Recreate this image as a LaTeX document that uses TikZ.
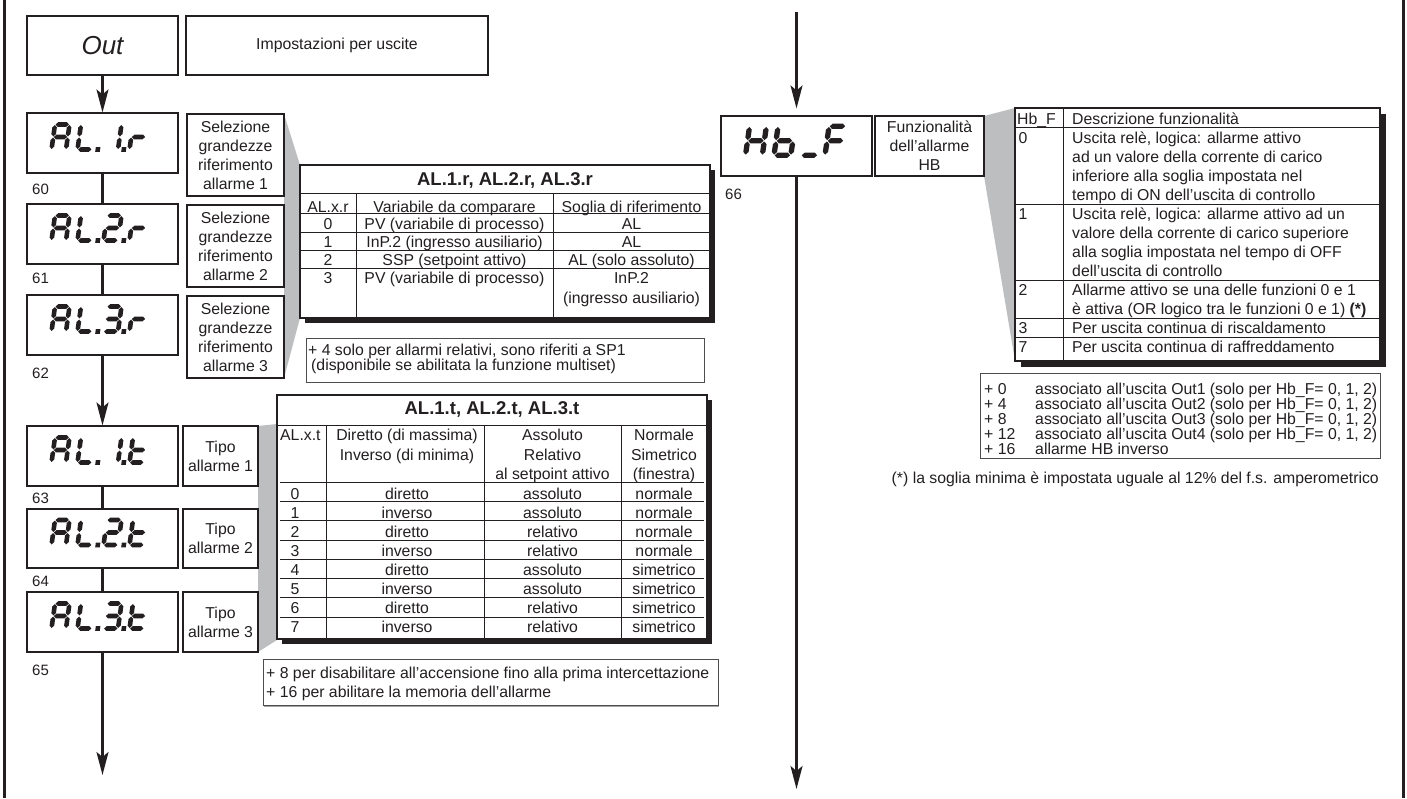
\documentclass[tikz,border=0pt]{standalone}
\usepackage{fontspec}
\setmainfont{Liberation Sans}
\usetikzlibrary{arrows.meta}
\definecolor{ink}{HTML}{231F20}
\definecolor{wedge}{HTML}{BCBEC0}
% seven segment pieces (origin = bottom-left stroke centre, y grows downwards)
\newcommand{\hsg}[3]{\fill[ink] (#1+0.6,#3) -- (#1+2.9,#3-2.3) -- (#2-2.9,#3-2.3) -- (#2-0.6,#3) -- (#2-2.9,#3+2.3) -- (#1+2.9,#3+2.3) -- cycle;}
\newcommand{\vsg}[3]{\fill[ink] (#1,#2+0.6) -- (#1+2.3,#2+2.9) -- (#1+2.3,#3-2.9) -- (#1,#3-0.6) -- (#1-2.3,#3-2.9) -- (#1-2.3,#2+2.9) -- cycle;}
\newcommand{\sgSa}{\hsg{0}{14.5}{-25}}
\newcommand{\sgSb}{\vsg{14.5}{-25}{-12.5}}
\newcommand{\sgSc}{\vsg{14.5}{-12.5}{0}}
\newcommand{\sgSd}{\hsg{0}{14.5}{0}}
\newcommand{\sgSe}{\vsg{0}{-12.5}{0}}
\newcommand{\sgSf}{\vsg{0}{-25}{-12.5}}
\newcommand{\sgSg}{\hsg{0}{14.5}{-12.5}}
\newcommand{\sgSp}{\fill[ink] (18,-2.3) rectangle (22.6,2.3);}
\newcommand{\sgCA}{\sgSa\sgSb\sgSc\sgSe\sgSf\sgSg}
\newcommand{\sgCL}{\sgSd\sgSe\sgSf\sgSp}
\newcommand{\sgCone}{\sgSb\sgSc\sgSp}
\newcommand{\sgCtwo}{\sgSa\sgSb\sgSg\sgSe\sgSd\sgSp}
\newcommand{\sgCthree}{\sgSa\sgSb\sgSg\sgSc\sgSd\sgSp}
\newcommand{\sgCr}{\sgSe\sgSg}
\newcommand{\sgCt}{\sgSd\sgSe\sgSf\sgSg}
\newcommand{\sgCH}{\sgSb\sgSc\sgSe\sgSf\sgSg}
\newcommand{\sgCb}{\sgSc\sgSd\sgSe\sgSf\sgSg}
\newcommand{\sgCu}{\sgSd}
\newcommand{\sgCF}{\sgSa\sgSe\sgSf\sgSg}
\newcommand{\sevenseg}[4]{\begin{scope}[shift={(#1,#2)},scale=#3,xslant=0.14]#4\end{scope}}
\begin{document}
\begin{tikzpicture}[x=1pt,y=-1pt,
  box/.style={draw=ink, line width=1.1pt, fill=white, inner sep=0pt, text=ink},
  disp/.style={box, minimum width=151pt, minimum height=60pt},
  lbl/.style={box, align=center, font=\fontsize{15.8}{19}\selectfont},
  txt/.style={font=\fontsize{15.8}{19}\selectfont, inner sep=0pt, anchor=base, text=ink},
  txtw/.style={txt, anchor=base west},
  hd/.style={font=\fontsize{18.5}{22}\selectfont\bfseries, inner sep=0pt, anchor=base, text=ink},
  num/.style={font=\fontsize{15}{18}\selectfont, inner sep=0pt, anchor=base west, text=ink},
  frame/.style={draw=ink, line width=1.2pt, fill=white},
  rule/.style={draw=ink, line width=0.8pt},
  note/.style={draw=ink!80, line width=0.9pt, fill=white},
  conn/.style={draw=ink, line width=2.2pt},
  arr/.style={-{Stealth[length=23pt,width=12pt,inset=5pt]}}
]
\useasboundingbox (0,0) rectangle (1407,798);
% page side rules
\draw[ink, line width=3pt] (4,0) -- (4,798);
\draw[ink, line width=3pt] (1403,0) -- (1403,798);
% gray projections
\fill[wedge] (284,114) -- (300,165) -- (300,318) -- (284,378) -- cycle;
\fill[wedge] (258,426) -- (277,424) -- (277,640) -- (258,652) -- cycle;
\fill[wedge] (984,116) -- (1015,108) -- (1015,361) -- (984,176) -- cycle;
% header boxes
\node[box, minimum width=151pt, minimum height=59pt, font=\fontsize{26}{30}\selectfont\itshape] (out) at (102.5,45.5) {Out};
\node[box, minimum width=302pt, minimum height=59pt, font=\fontsize{15.8}{19}\selectfont] (imp) at (337,45.5) {Impostazioni per uscite};
% display boxes
\node[disp] (al1r) at (102.5,143) {};
\node[disp] (al2r) at (102.5,234) {};
\node[disp] (al3r) at (102.5,325) {};
\node[disp] (al1t) at (102.5,456) {};
\node[disp, minimum height=59pt] (al2t) at (102.5,538.5) {};
\node[disp] (al3t) at (102.5,622) {};
\node[disp] (hbf) at (796.5,146) {};
% seven segment texts
\foreach \cy/\third/\last in {149.5/\sgCone/\sgCr, 240.5/\sgCtwo/\sgCr, 331.5/\sgCthree/\sgCr, 462.5/\sgCone/\sgCt, 545/\sgCtwo/\sgCt, 628.5/\sgCthree/\sgCt} {
  \sevenseg{51.5}{\cy}{1}{\sgCA}
  \sevenseg{77.5}{\cy}{1}{\sgCL}
  \sevenseg{103.5}{\cy}{1}{\third}
  \sevenseg{129.5}{\cy}{1}{\last}
}
\sevenseg{745.5}{155.3}{1.16}{\sgCH}
\sevenseg{774}{155.3}{1.16}{\sgCb}
\sevenseg{801}{155.3}{1.16}{\sgCu}
\sevenseg{825}{155.3}{1.16}{\sgCF}
% description boxes
\node[lbl, minimum width=97pt, minimum height=82pt] (sel1) at (235.5,155) {Selezione\\grandezze\\riferimento\\allarme 1};
\node[lbl, minimum width=97pt, minimum height=82pt] (sel2) at (235.5,246) {Selezione\\grandezze\\riferimento\\allarme 2};
\node[lbl, minimum width=97pt, minimum height=82pt] (sel3) at (235.5,337) {Selezione\\grandezze\\riferimento\\allarme 3};
\node[lbl, minimum width=75pt, minimum height=60pt] (tipo1) at (220.5,456) {Tipo\\allarme 1};
\node[lbl, minimum width=75pt, minimum height=59pt] (tipo2) at (220.5,538.5) {Tipo\\allarme 2};
\node[lbl, minimum width=75pt, minimum height=60pt] (tipo3) at (220.5,622) {Tipo\\allarme 3};
\node[lbl, minimum width=109pt, minimum height=60pt] (fun) at (929.5,146) {Funzionalità\\dell'allarme\\HB};
% step numbers
\node[num] (n60) at (32,194) {60};
\node[num] (n61) at (32,283) {61};
\node[num] (n62) at (32,378) {62};
\node[num] (n63) at (32,503) {63};
\node[num] (n64) at (32,586) {64};
\node[num] (n65) at (32,675) {65};
\node[num] (n66) at (725,199) {66};
% connectors
\draw[conn, arr] (out) -- (al1r);
\draw[conn] (al1r) -- (al2r);
\draw[conn] (al2r) -- (al3r);
\draw[conn, arr] (al3r) -- (al1t);
\draw[conn] (al1t) -- (al2t);
\draw[conn] (al2t) -- (al3t);
\coordinate (endL) at (102.5,775);
\draw[conn, arr] (al3t) -- (endL);
\coordinate (startR) at (796.5,12);
\draw[conn, arr, shorten >=7pt] (startR) -- (hbf);
\coordinate (endR) at (796.5,789);
\draw[conn, arr] (hbf) -- (endR);
% ---------- table 1 ----------
\fill[ink] (305,170) rectangle (715,323);
\draw[frame] (300,165) rectangle (710,318);
\draw[rule] (300,193) -- (710,193);
\foreach \yy in {213,232,250,268} {\draw[rule] (300,\yy) -- (710,\yy);}
\draw[rule] (356,193) -- (356,318);
\draw[rule] (553,193) -- (553,318);
\node[hd] (t1title) at (505,185.5) {AL.1.r, AL.2.r, AL.3.r};
\node[txt] (t1ha) at (328,212.5) {AL.x.r};
\node[txt] (t1hb) at (454.5,212.5) {Variabile da comparare};
\node[txt] (t1hc) at (631.5,212.5) {Soglia di riferimento};
\foreach \n/\v/\s [count=\i from 0] in {0/PV (variabile di processo)/AL, 1/InP.2 (ingresso ausiliario)/AL, 2/SSP (setpoint attivo)/AL (solo assoluto), 3/PV (variabile di processo)/InP.2} {
  \node[txt] (t1n\i) at (328,229+\i*18) {\n};
  \node[txt] (t1v\i) at (454.5,229+\i*18) {\v};
  \node[txt] (t1s\i) at (631.5,229+\i*18) {\s};
}
\node[txt] (t1s3b) at (631.5,303) {(ingresso ausiliario)};
% note 1
\draw[note] (306,338) rectangle (704,382);
\node[txtw] (nt1a) at (308,355) {+ 4 solo per allarmi relativi, sono riferiti a SP1};
\node[txtw] (nt1b) at (308,370.5) {\hspace{3pt}(disponibile se abilitata la funzione multiset)};
% ---------- table 2 ----------
\fill[ink] (282,400) rectangle (712,644);
\draw[frame] (277,395) rectangle (707,639);
\draw[rule] (277,425) -- (707,425);
\foreach \xx in {326,484,621} {\draw[rule] (\xx,425) -- (\xx,639);}
\foreach \i in {0,...,7} {\draw[rule] (280,482+\i*19.3) -- (704,482+\i*19.3);}
\node[hd] (t2title) at (492,414.5) {AL.1.t, AL.2.t, AL.3.t};
\node[txtw] (t2ha) at (280,440) {AL.x.t};
\node[txt] (t2hb1) at (407,440) {Diretto (di massima)};
\node[txt] (t2hb2) at (407,460) {Inverso (di minima)};
\node[txt] (t2hc1) at (552.5,440) {Assoluto};
\node[txt] (t2hc2) at (552.5,460) {Relativo};
\node[txt] (t2hc3) at (552.5,479) {al setpoint attivo};
\node[txt] (t2hd1) at (664,440) {Normale};
\node[txt] (t2hd2) at (664,460) {Simetrico};
\node[txt] (t2hd3) at (664,479) {(finestra)};
\foreach \a/\b/\c [count=\i from 0] in {diretto/assoluto/normale, inverso/assoluto/normale, diretto/relativo/normale, inverso/relativo/normale, diretto/assoluto/simetrico, inverso/assoluto/simetrico, diretto/relativo/simetrico, inverso/relativo/simetrico} {
  \node[txt] (t2n\i) at (295,499+\i*19.14) {\i};
  \node[txt] (t2a\i) at (407,499+\i*19.14) {\a};
  \node[txt] (t2b\i) at (552.5,499+\i*19.14) {\b};
  \node[txt] (t2c\i) at (664,499+\i*19.14) {\c};
}
% note 2
\draw[ink!40, line width=1pt] (264,706.5) -- (719,706.5);
\draw[note] (263,659) rectangle (718,705);
\node[txtw] (nt2a) at (266,678) {+ 8 per disabilitare all'accensione fino alla prima intercettazione};
\node[txtw] (nt2b) at (266,697) {+ 16 per abilitare la memoria dell'allarme};
% ---------- table Hb_F ----------
\fill[ink] (1021,114) rectangle (1386,367);
\draw[frame] (1015,108) rectangle (1380,361);
\foreach \yy in {127.5,204,280,318.5,337.5} {\draw[rule] (1015,\yy) -- (1380,\yy);}
\draw[rule] (1063,108) -- (1063,361);
\node[txtw] (t3ha) at (1017,124) {Hb\_F};
\node[txtw] (t3hb) at (1072,124) {Descrizione funzionalità};
\foreach \k/\n in {1/0,5/1,9/2,11/3,12/7} {\node[txt] (t3n\n) at (1023,124+\k*19.08) {\n};}
\foreach \t [count=\k] in {Uscita relè{,} logica: allarme attivo, ad un valore della corrente di carico, inferiore alla soglia impostata nel, tempo di ON dell'uscita di controllo, Uscita relè{,} logica: allarme attivo ad un, valore della corrente di carico superiore, alla soglia impostata nel tempo di OFF, dell'uscita di controllo, Allarme attivo se una delle funzioni 0 e 1, è attiva (OR logico tra le funzioni 0 e 1) \textbf{(*)}, Per uscita continua di riscaldamento, Per uscita continua di raffreddamento} {
  \node[txtw] (t3t\k) at (1072,124+\k*19.08) {\t};
}
% list box
\draw[note] (980,373) rectangle (1380,458);
\foreach \p/\t [count=\k from 0] in {0/associato all’uscita Out1 (solo per Hb\_F= 0{,} 1{,} 2), 4/associato all’uscita Out2 (solo per Hb\_F= 0{,} 1{,} 2), 8/associato all’uscita Out3 (solo per Hb\_F= 0{,} 1{,} 2), 12/associato all’uscita Out4 (solo per Hb\_F= 0{,} 1{,} 2), 16/allarme HB inverso} {
  \node[txtw] (lp\k) at (984,394+\k*15) {+ \p};
  \node[txtw] (lt\k) at (1035,394+\k*15) {\t};
}
\node[txt, anchor=base east] (foot) at (1379,483) {(*) la soglia minima è impostata uguale al 12\% del f.s. amperometrico};
\end{tikzpicture}
\end{document}
